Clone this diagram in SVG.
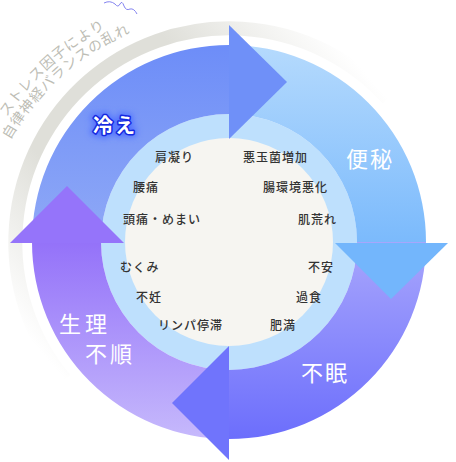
<svg xmlns="http://www.w3.org/2000/svg" width="456" height="462" viewBox="0 0 456 462">
<defs>
<linearGradient id="gGray" gradientUnits="userSpaceOnUse" x1="65" y1="380" x2="388" y2="99">
<stop offset="0" stop-color="#dfdfd9" stop-opacity="0"/>
<stop offset="0.3" stop-color="#dfdfd9" stop-opacity="1"/>
<stop offset="0.7" stop-color="#dfdfd9" stop-opacity="1"/>
<stop offset="1" stop-color="#dfdfd9" stop-opacity="0"/>
</linearGradient>
<linearGradient id="gTL" gradientUnits="userSpaceOnUse" x1="0" y1="45" x2="0" y2="242">
<stop offset="0" stop-color="#6d8df8"/><stop offset="1" stop-color="#8fa9f6"/>
</linearGradient>
<linearGradient id="gTR" gradientUnits="userSpaceOnUse" x1="0" y1="45" x2="0" y2="242">
<stop offset="0" stop-color="#b5dafd"/><stop offset="1" stop-color="#7bbafc"/>
</linearGradient>
<linearGradient id="gBR" gradientUnits="userSpaceOnUse" x1="0" y1="242" x2="0" y2="439">
<stop offset="0" stop-color="#a8a6fc"/><stop offset="1" stop-color="#6c6efc"/>
</linearGradient>
<linearGradient id="gBL" gradientUnits="userSpaceOnUse" x1="0" y1="242" x2="0" y2="439">
<stop offset="0" stop-color="#9472f9"/><stop offset="1" stop-color="#c6b9fc"/>
</linearGradient>
<filter id="glow" x="-30%" y="-50%" width="160%" height="200%">
<feGaussianBlur stdDeviation="3"/>
</filter>
<path id="arc1" d="M6.9 116.9 A267 267 0 0 1 182.6 2.1"/>
<path id="arc2" d="M10.1 140.1 A252 252 0 0 1 185.2 16.8"/>
<style>
.sym{font-family:"Noto Sans CJK JP","Noto Sans",sans-serif;font-size:12px;font-weight:500;fill:#333;letter-spacing:1px}
.big{font-family:"Noto Sans CJK JP","Noto Sans",sans-serif;font-size:22px;fill:#fff;text-anchor:middle;letter-spacing:2px}
.arc{font-family:"Noto Sans CJK JP","Noto Sans",sans-serif;font-size:14px;fill:#bdbdb5;letter-spacing:1px}
</style>
</defs>
<rect width="456" height="462" fill="#fff"/>
<g id="stress">
<path d="M65.1 379.6 A214 214 0 0 1 388 98.8" fill="none" stroke="url(#gGray)" stroke-width="14"/>
<text class="arc"><textPath href="#arc1">ストレス因子により</textPath></text>
<text class="arc"><textPath href="#arc2">自律神経バランスの乱れ</textPath></text>
<path d="M104 3 Q110 0 115 4 Q118 8 120 4 Q122 0 124 6 Q126 11 130 9 Q134 8 137 14" fill="none" stroke="#8484f0" stroke-width="1"/>
</g>
<g id="core">
<circle cx="229" cy="242" r="128" fill="#bee0fd"/>
<circle cx="229" cy="242" r="104" fill="#f6f5f1"/>
</g>
<g id="connectors">
<path id="seg-hie" d="M32 242 A197 197 0 0 1 229 45 L229 114 A128 128 0 0 0 101 242 Z" fill="url(#gTL)"/>
<path id="seg-benpi" d="M229 45 A197 197 0 0 1 426 242 L357 242 A128 128 0 0 0 229 114 Z" fill="url(#gTR)"/>
<path id="seg-fumin" d="M426 242 A197 197 0 0 1 229 439 L229 370 A128 128 0 0 0 357 242 Z" fill="url(#gBR)"/>
<path id="seg-seiri" d="M229 439 A197 197 0 0 1 32 242 L101 242 A128 128 0 0 0 229 370 Z" fill="url(#gBL)"/>
<polygon points="229,25 287,82 229,139" fill="#6f90f8"/>
<polygon points="335,243 448,243 391,299" fill="#73b6fc"/>
<polygon points="229,346 172,403 229,460" fill="#7074fc"/>
<polygon points="10,243 67,186 124,243" fill="#9574fa"/>
</g>
<g id="node-hie">
<text x="115" y="133" class="big" style="font-size:20px;font-weight:bold;stroke:#5070ff;stroke-width:6;fill:#5070ff" filter="url(#glow)">冷え</text>
<text x="115" y="133" class="big" style="font-size:20px;font-weight:bold;stroke:#1428e0;stroke-width:3;paint-order:stroke;stroke-linejoin:round">冷え</text>
<text x="155" y="162" class="sym">肩凝り</text>
<text x="133" y="192" class="sym">腰痛</text>
<text x="123" y="224" class="sym">頭痛・めまい</text>
</g>
<g id="node-benpi">
<text x="370" y="167" class="big">便秘</text>
<text x="243" y="162" class="sym">悪玉菌増加</text>
<text x="263" y="192" class="sym">腸環境悪化</text>
<text x="298" y="224" class="sym">肌荒れ</text>
</g>
<g id="node-fumin">
<text x="325" y="381" class="big">不眠</text>
<text x="308" y="272" class="sym">不安</text>
<text x="296" y="302" class="sym">過食</text>
<text x="270" y="330" class="sym">肥満</text>
</g>
<g id="node-seiri">
<text x="85" y="332" class="big" style="letter-spacing:4px">生理</text>
<text x="110" y="362" class="big" style="letter-spacing:3px">不順</text>
<text x="120" y="272" class="sym">むくみ</text>
<text x="136" y="302" class="sym">不妊</text>
<text x="158" y="330" class="sym">リンパ停滞</text>
</g>
</svg>
